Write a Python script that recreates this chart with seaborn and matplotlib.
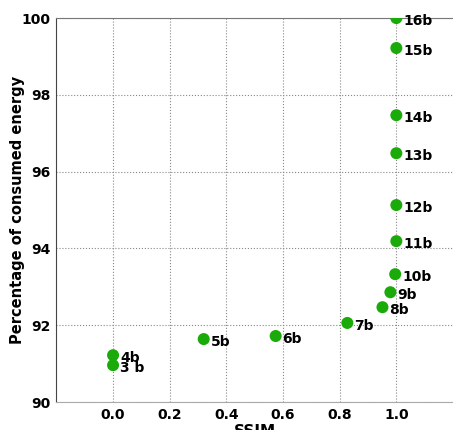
import seaborn as sns
import matplotlib.pyplot as plt
import pandas as pd

# SSIM vs energy for each bit setting
labels = ["3 b", "4b", "5b", "6b", "7b", "8b", "9b", "10b", "11b", "12b", "13b", "14b", "15b", "16b"]
ssim = [0.0, 0.0, 0.32, 0.574, 0.827, 0.951, 0.979, 0.996, 1.0, 1.0, 1.0, 1.0, 1.0, 1.0]
energy = [90.96, 91.22, 91.64, 91.72, 92.06, 92.47, 92.86, 93.33, 94.19, 95.13, 96.48, 97.47, 99.22, 100.0]

df = pd.DataFrame({"ssim": ssim, "energy": energy, "label": labels})

sns.set_style("white")
plt.rcParams["font.family"] = ["DejaVu Sans"]
plt.rcParams["font.weight"] = "bold"
plt.rcParams["text.color"] = "black"
plt.rcParams["axes.labelcolor"] = "black"
plt.rcParams["xtick.color"] = "black"
plt.rcParams["ytick.color"] = "black"

fig = plt.figure(figsize=(4.53, 4.30), dpi=100)
ax = fig.add_axes([0.1245, 0.065, 0.8755, 0.893])

sns.scatterplot(data=df, x="ssim", y="energy", ax=ax, color="#1aab0a",
                s=75, edgecolor="none", zorder=3, clip_on=True)

for lab, x, y in zip(labels, ssim, energy):
    ax.annotate(lab, (x, y), xytext=(5, -5), textcoords="offset points",
                fontsize=10, fontweight="bold", color="black", zorder=4)

ax.set_xlim(-0.2, 1.2)
ax.set_ylim(90, 100)
ax.set_xticks([0.0, 0.2, 0.4, 0.6, 0.8, 1.0])
ax.set_xticklabels(["0.0", "0.2", "0.4", "0.6", "0.8", "1.0"])
ax.set_yticks([90, 92, 94, 96, 98, 100])
ax.tick_params(length=0, labelsize=10, pad=4, colors="black")
for t in ax.get_xticklabels() + ax.get_yticklabels():
    t.set_fontweight("bold")

ax.grid(True, linestyle=":", color="#888888", linewidth=0.8)
ax.set_axisbelow(True)
ax.spines["right"].set_visible(False)
ax.spines["left"].set_color("#444444")
ax.spines["top"].set_color("#777777")
ax.spines["bottom"].set_color("#aaaaaa")

ax.set_xlabel("SSIM", fontsize=11, fontweight="bold", labelpad=2)
ax.set_ylabel("Percentage of consumed energy", fontsize=10.5, fontweight="bold", labelpad=-2)

fig.savefig("out.png", dpi=100)
